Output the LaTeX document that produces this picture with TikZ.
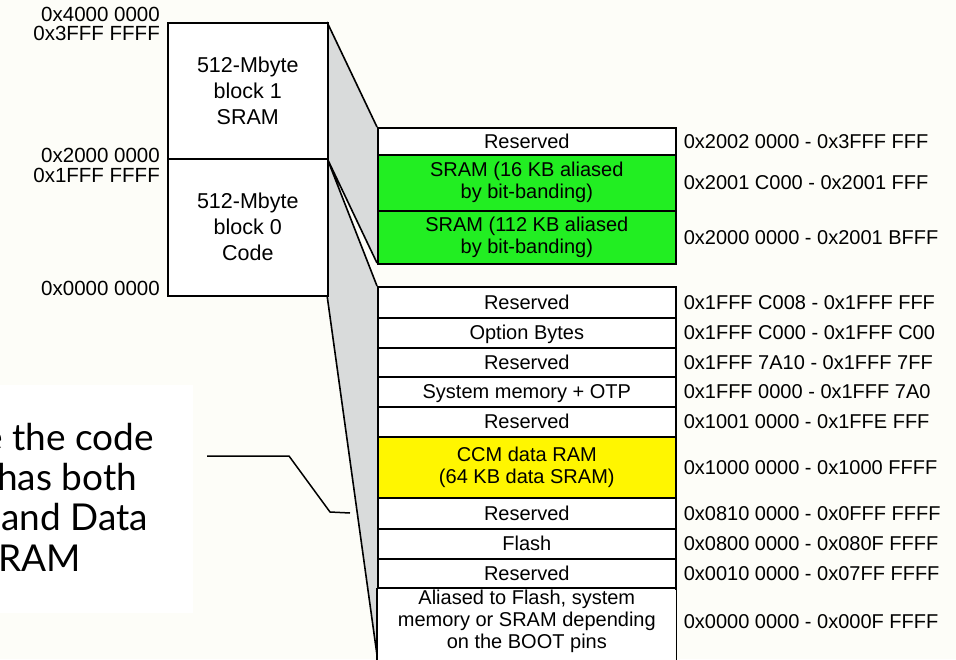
\documentclass[tikz,border=0pt]{standalone}
\usepackage{fontspec}
\setmainfont{Liberation Sans}
\newfontfamily\notefont{Lato}
\usetikzlibrary{positioning}
\definecolor{pagebg}{RGB}{253,253,248}
\definecolor{fangray}{RGB}{217,219,219}
\definecolor{srgreen}{RGB}{34,238,34}
\definecolor{ccmyellow}{RGB}{255,246,0}
\tikzset{
  rowline/.style={line width=1.6pt},
  memrow/.style={rowline, draw, inner sep=0pt, minimum width=298pt, anchor=north west, align=center, font=\fontsize{20}{22}\selectfont,
    execute at begin node={\rule{0pt}{18.5pt}}, execute at end node={\rule[-4.2pt]{0pt}{4.2pt}}},
  memblock/.style={rowline, draw, fill=white, inner sep=0pt, minimum width=160pt, anchor=north west, align=center, font=\fontsize{21.5}{26}\selectfont,
    execute at begin node={\rule{0pt}{21pt}}},
  addr/.style={anchor=west, inner sep=0pt, font=\fontsize{20}{22}\selectfont},
  baseaddr/.style={anchor=base east, inner sep=0pt, font=\fontsize{20.5}{22}\selectfont},
  notetext/.style={anchor=base west, inner sep=0pt, font=\notefont\fontsize{37}{40}\selectfont},
}
\begin{document}
\begin{tikzpicture}[x=1pt,y=-1pt]
\useasboundingbox (0,0) rectangle (956,659);
\clip (0,0) rectangle (956,659);
\fill[pagebg] (0,0) rectangle (956,659);

\coordinate (k0) at (327,22);
\coordinate (k1) at (327,158);
\coordinate (k2) at (327,295);
\coordinate (s0) at (377,127);
\coordinate (s1) at (377,263);
\coordinate (s2) at (377,286);
\coordinate (s3) at (377,655);

\fill[fangray] (k0) -- (s0) -- (s1) -- (k1) -- cycle;
\fill[fangray] (k1) -- (s2) -- (s3) -- (k2) -- cycle;
\draw[rowline] (k0) -- (s0) (k1) -- (s1) (k1) -- (s2) (k2) -- (s3);

\node (blk1) [memblock, minimum height=136pt] at (167,22) {512-Mbyte\\block 1\\SRAM};
\node (blk0) [memblock, minimum height=137pt] at (167,158) {512-Mbyte\\block 0\\Code};

\node (a0) at (160,21) [baseaddr] {0x4000 0000};
\node (a1) at (160,40) [baseaddr] {0x3FFF FFFF};
\node (a2) at (160,162) [baseaddr] {0x2000 0000};
\node (a3) at (160,182) [baseaddr] {0x1FFF FFFF};
\node (a4) at (160,295) [baseaddr] {0x0000 0000};

\foreach \n/\t/\b/\c/\txt/\adr in {
1/127/154/white/Reserved/{0x2002 0000 - 0x3FFF FFF},
2/154/210/srgreen/{SRAM (16 KB aliased\\by bit-banding)}/{0x2001 C000 - 0x2001 FFF},
3/210/263/srgreen/{SRAM (112 KB aliased\\by bit-banding)}/{0x2000 0000 - 0x2001 BFFF},
4/286/317/white/Reserved/{0x1FFF C008 - 0x1FFF FFF},
5/317/347/white/{Option Bytes}/{0x1FFF C000 - 0x1FFF C00},
6/347/376/white/Reserved/{0x1FFF 7A10 - 0x1FFF 7FF},
7/376/406/white/{System memory + OTP}/{0x1FFF 0000 - 0x1FFF 7A0},
8/406/436/white/Reserved/{0x1001 0000 - 0x1FFE FFF},
9/436/497/ccmyellow/{CCM data RAM\\(64 KB data SRAM)}/{0x1000 0000 - 0x1000 FFFF},
10/497/528/white/Reserved/{0x0810 0000 - 0x0FFF FFFF},
11/528/558/white/Flash/{0x0800 0000 - 0x080F FFFF},
12/558/588/white/Reserved/{0x0010 0000 - 0x07FF FFFF}} {
\node (r\n) [memrow, fill=\c, minimum height=\b-\t] at (377,\t) {\txt};
\node [addr] at ([xshift=7]r\n.east) {\adr};
}

\fill[white] (377,588) rectangle (675,670);
\node (r13) [memrow, draw=none, minimum height=66pt] at (377,588) {Aliased to Flash, system\\memory or SRAM depending\\on the BOOT pins};
\draw[rowline] (r13.north west) -- ++(0,90) (r13.north east) -- ++(0,90) (r13.north west) -- (r13.north east);
\node [addr] at ([xshift=7]r13.east) {0x0000 0000 - 0x000F FFFF};

\fill[white] (0,385) rectangle (193,613);
\node (n1) at (-17,450) [notetext] {e the code};
\node (n2) at (-3,490) [notetext] {has both};
\node (n3) at (1,530) [notetext] {and Data};
\node (n4) at (-2,571) [notetext] {RAM};

\coordinate (cl0) at (207,456);
\coordinate (cl1) at (289,456);
\coordinate (cl2) at (330,512);
\coordinate (cl3) at (350,513);
\draw[line width=1.5pt] (cl0) -- (cl1) -- (cl2) -- (cl3);
\end{tikzpicture}
\end{document}
